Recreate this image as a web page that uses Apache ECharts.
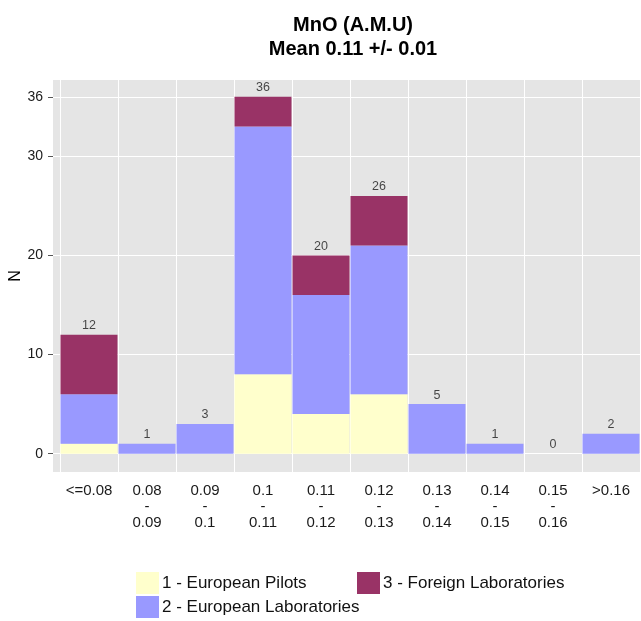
<!DOCTYPE html>
<html>
<head>
<meta charset="utf-8">
<script src="https://cdn.jsdelivr.net/npm/echarts@6/dist/echarts.min.js"></script>
<style>html,body{margin:0;padding:0;background:#fff;}#c{width:641px;height:621px;}</style>
</head>
<body>
<div id="c"></div>
<script>
const categories = ['<=0.08', '0.08\n-\n0.09', '0.09\n-\n0.1', '0.1\n-\n0.11', '0.11\n-\n0.12', '0.12\n-\n0.13', '0.13\n-\n0.14', '0.14\n-\n0.15', '0.15\n-\n0.16', '>0.16'];
const europeanPilots = [1, 0, 0, 8, 4, 6, 0, 0, 0, 0];
const europeanLabs = [5, 1, 3, 25, 12, 15, 5, 1, 0, 2];
const foreignLabs = [6, 0, 0, 3, 4, 5, 0, 0, 0, 0];
const yTicks = [0, 10, 20, 30, 36];
const yAxisTitle = 'N';
const seriesNames = ['1 - European Pilots', '2 - European Laboratories', '3 - Foreign Laboratories'];
const seriesColors = ['#FFFFCC', '#9999FF', '#993366'];

const totals = categories.map((_, i) => europeanPilots[i] + europeanLabs[i] + foreignLabs[i]);
const FONT = 'Liberation Sans, Arial, sans-serif';
const yMin = -1.85, yMax = 37.7;

const chart = echarts.init(document.getElementById('c'), null, {renderer: 'canvas'});
const legendCommon = {
  orient: 'horizontal', padding: 0, itemWidth: 23, itemHeight: 22, icon: 'rect',
  selectedMode: false,
  textStyle: {fontFamily: FONT, fontSize: 17, color: '#111', padding: [3, 0, 0, -2]}
};
chart.setOption({
  animation: false,
  backgroundColor: '#ffffff',
  title: {
    text: 'MnO (A.M.U)\nMean 0.11 +/- 0.01',
    left: 348, top: 8, textAlign: 'center',
    textStyle: {fontFamily: FONT, fontSize: 20, fontWeight: 'bold', color: '#000', lineHeight: 24}
  },
  graphic: [{
    type: 'text', x: 16, y: 276, rotation: Math.PI / 2,
    style: {text: yAxisTitle, fontFamily: FONT, fontSize: 16, fill: '#000', align: 'center', verticalAlign: 'middle'}
  }],
  legend: [
    Object.assign({}, legendCommon, {data: [seriesNames[0]], left: 136, top: 572}),
    Object.assign({}, legendCommon, {data: [seriesNames[1]], left: 136, top: 596}),
    Object.assign({}, legendCommon, {data: [seriesNames[2]], left: 357, top: 572})
  ],
  grid: [
    {left: 53, right: 0, top: 80, bottom: 149, show: true, backgroundColor: '#E5E5E5', borderWidth: 0,
      containLabel: false, outerBoundsMode: 'none'},
    {left: 60, width: 580, top: 80, bottom: 149, show: false, containLabel: false, outerBoundsMode: 'none'}
  ],
  xAxis: [
    {gridIndex: 0, type: 'value', min: 0, max: 1, show: false},
    {
      gridIndex: 1, type: 'category', data: categories,
      axisLine: {show: false}, axisTick: {show: false},
      splitLine: {show: true, interval: 0, lineStyle: {color: '#ffffff', width: 1}},
      axisLabel: {interval: 0, margin: 11, fontFamily: FONT, fontSize: 15, color: '#1a1a1a', lineHeight: 16}
    }
  ],
  yAxis: [
    {
      gridIndex: 0, type: 'value', min: yMin, max: yMax,
      axisLine: {show: false},
      axisTick: {show: true, length: 5, customValues: yTicks, lineStyle: {color: '#555'}},
      axisLabel: {customValues: yTicks, margin: 10, fontFamily: FONT, fontSize: 14, color: '#1a1a1a'},
      splitLine: {show: true, lineStyle: {color: '#ffffff', width: 1}}
    },
    {gridIndex: 1, type: 'value', min: yMin, max: yMax, show: false, splitLine: {show: false}}
  ],
  series: [
    {name: seriesNames[0], type: 'bar', stack: 'n', xAxisIndex: 1, yAxisIndex: 1, barWidth: 57,
      itemStyle: {color: seriesColors[0]}, data: europeanPilots},
    {name: seriesNames[1], type: 'bar', stack: 'n', xAxisIndex: 1, yAxisIndex: 1, barWidth: 57,
      itemStyle: {color: seriesColors[1]}, data: europeanLabs},
    {name: seriesNames[2], type: 'bar', stack: 'n', xAxisIndex: 1, yAxisIndex: 1, barWidth: 57,
      itemStyle: {color: seriesColors[2]}, data: foreignLabs},
    {name: 'total', type: 'scatter', xAxisIndex: 1, yAxisIndex: 1, symbolSize: 1,
      itemStyle: {color: 'rgba(0,0,0,0)'}, silent: true,
      label: {show: true, position: 'top', distance: 2, fontFamily: FONT, fontSize: 12.5, color: '#1a1a1a'},
      data: totals}
  ]
});
</script>
</body>
</html>
